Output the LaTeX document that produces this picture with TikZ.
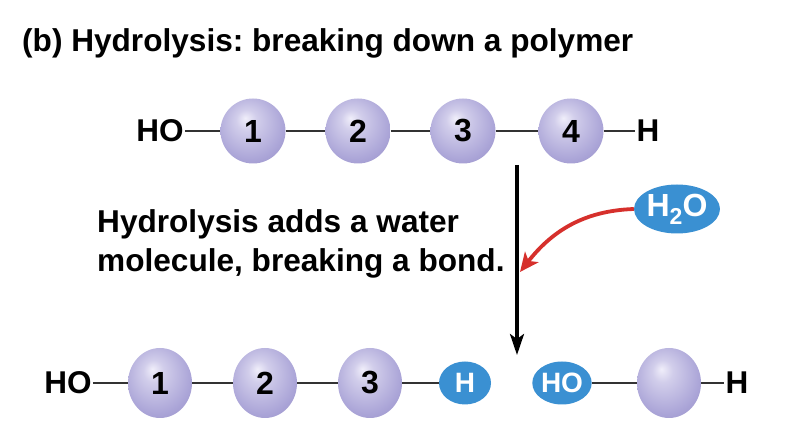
\documentclass[tikz,border=0pt]{standalone}
\usepackage{fontspec}
\setmainfont{Liberation Sans}
\usetikzlibrary{positioning,shapes.geometric,arrows.meta}
\definecolor{ballhi}{RGB}{240,238,250}
\definecolor{ballmid}{RGB}{172,166,216}
\definecolor{balllo}{RGB}{126,118,182}
\definecolor{waterblue}{RGB}{58,144,210}
\definecolor{arrowred}{RGB}{214,48,44}
\pgfdeclareradialshading{molball}{\pgfpoint{-6bp}{10bp}}{color(0bp)=(ballhi); color(8bp)=(ballhi!55!ballmid); color(26bp)=(ballmid); color(50bp)=(balllo)}
\frenchspacing

\begin{document}
\begin{tikzpicture}[x=1pt,y=-1pt,>=Stealth,
  mono/.style={circle, minimum size=65pt, inner sep=0pt, shading=molball,
    font=\fontsize{32}{32}\selectfont\bfseries},
  monob/.style={mono, ellipse, minimum width=64pt, minimum height=70pt},
  grp/.style={ellipse, fill=waterblue, text=white, inner sep=0pt,
    minimum height=43pt, font=\fontsize{28}{28}\selectfont\bfseries},
  endtxt/.style={inner sep=1pt, font=\fontsize{31.5}{31.5}\selectfont\bfseries},
  bond/.style={draw=black!80, line width=1.6pt}]
\useasboundingbox (0,0) rectangle (788,438);
\node[anchor=base west, inner sep=0pt, font=\fontsize{31.6}{31.6}\selectfont\bfseries]
  (title) at (22,52) {(b) Hydrolysis: breaking down a polymer};

% polymer before
\node[endtxt] (tho) at (160,131) {HO};
\foreach \i/\x in {1/253,2/358,3/463,4/571}
  \node[mono] (t\i) at (\x,131) {\i};
\node[endtxt] (th) at (648,131) {H};
\draw[bond] (tho) -- (t1) -- (t2) -- (t3) -- (t4) -- (th);

% reaction
\coordinate (vtop) at (517,165);
\coordinate (vtip) at (517,355);
\draw[->, line width=3.2pt, >={Stealth[length=21pt,width=14pt,inset=5pt]}] (vtop) -- (vtip);
\node[grp, minimum width=71pt, minimum height=49pt, font=\fontsize{32}{32}\selectfont\bfseries]
  (water) at (677,209) {H\raisebox{-8pt}{\fontsize{23}{23}\selectfont 2}O};
\coordinate (hit) at (520,272);
\draw[->, arrowred, line width=3.8pt, >={Stealth[length=19pt,width=17pt,inset=5pt]}]
  (water.west) to[out=182, in=52] (hit);
\node[anchor=base west, align=left, inner sep=0pt,
  font=\fontsize{31.6}{39}\selectfont\bfseries]
  (note) at (97,272) {Hydrolysis adds a water\\molecule, breaking a bond.};

% products
\node[endtxt] (bho) at (68,383) {HO};
\foreach \i/\x in {1/160,2/265,3/370}
  \node[monob] (b\i) at (\x,383) {\i};
\node[grp, minimum width=52pt] (bh) at (465,383) {H};
\node[grp, minimum width=56pt] (bho2) at (562,383) {HO};
\node[monob] (bx) at (669,383) {};
\node[endtxt] (bh2) at (737,383) {H};
\draw[bond] (bho) -- (b1) -- (b2) -- (b3) -- (bh);
\draw[bond] (bho2) -- (bx) -- (bh2);
\end{tikzpicture}
\end{document}
